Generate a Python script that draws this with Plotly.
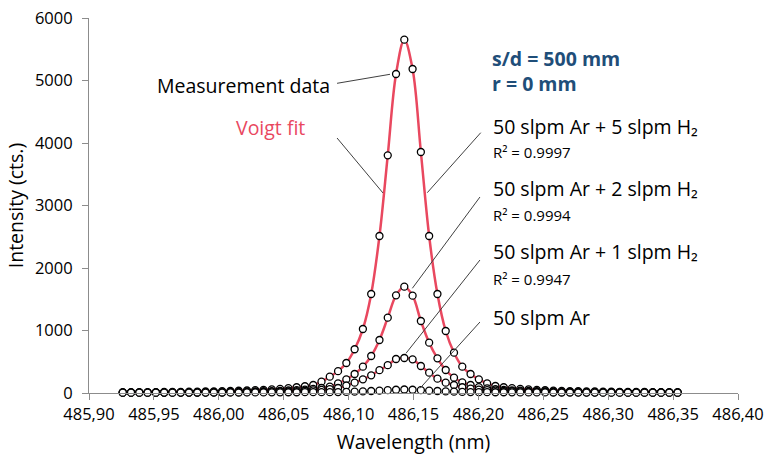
import plotly.graph_objects as go

# ---------------- data ----------------
wl_start = 485.926
wl_step = 0.00638
n_pts = 68
wavelength = [round(wl_start + i * wl_step, 5) for i in range(n_pts)]

h2_5 = [12, 12, 13, 14, 15, 16, 17, 19, 20, 22, 24, 26, 29, 32, 36,
        40, 45, 51, 58, 67, 78, 92, 108, 128, 181, 261, 350, 480, 700,
        1024, 1584, 2512, 3803, 5104, 5653, 5184, 3856, 2512, 1584, 992,
        645, 421, 304, 219, 155, 112,
        92, 78, 66, 57, 50, 44, 39, 35, 31, 28, 26, 24, 22, 20, 19, 18,
        17, 16, 15, 14, 13, 12]

h2_2 = [6, 6, 7, 7, 8, 8, 9, 9, 10, 11, 12, 13, 15, 17, 19,
        22, 25, 28, 31, 35, 40, 47, 55, 65, 80, 101, 155, 219, 304,
        421, 592, 848, 1205, 1563, 1701, 1557, 1152, 805, 555, 368,
        245, 171, 128, 95, 75, 60,
        50, 43, 37, 32, 28, 25, 22, 20, 18, 16, 15, 14, 13, 12, 11, 10,
        9, 9, 8, 8, 7, 7]

h2_1 = [5, 5, 5, 6, 6, 6, 7, 7, 8, 8, 9, 10, 11, 12, 13,
        15, 17, 19, 21, 24, 27, 31, 36, 42, 50, 62, 80, 120, 165,
        219, 283, 365, 445, 544, 560, 539, 432, 325, 229, 165,
        128, 92, 70, 55, 45, 38,
        32, 28, 25, 22, 20, 18, 16, 15, 14, 13, 12, 11, 10, 9, 9, 8,
        8, 7, 7, 6, 6, 5]

ar_only = [5, 6, 5, 6, 6, 7, 6, 7, 7, 8, 7, 8, 8, 9, 8,
           9, 10, 10, 11, 11, 12, 12, 13, 13, 14, 14, 15, 18, 22,
           26, 32, 38, 45, 52, 56, 52, 45, 38, 32, 26,
           22, 18, 15, 14, 13, 12,
           12, 11, 10, 10, 9, 9, 8, 8, 8, 7, 7, 7, 6, 6, 6, 6,
           5, 5, 5, 5, 5, 5]

fitted_series = [h2_5, h2_2, h2_1]
all_series = [h2_5, h2_2, h2_1, ar_only]

series_labels = ["50 slpm Ar + 5 slpm H₂", "50 slpm Ar + 2 slpm H₂",
                 "50 slpm Ar + 1 slpm H₂", "50 slpm Ar"]
r2_labels = ["R² = 0.9997", "R² = 0.9994", "R² = 0.9947", None]

x_ticks = [485.90, 485.95, 486.00, 486.05, 486.10, 486.15, 486.20,
           486.25, 486.30, 486.35, 486.40]

# ---------------- styling ----------------
RED = "#e9485f"
FONT = "Open Sans"
TXT = "#000000"
AXC = "#8c8c8c"

fig = go.Figure()

for s in fitted_series:
    fig.add_trace(go.Scatter(
        x=wavelength, y=s, mode="lines",
        line=dict(color=RED, width=2.5, shape="spline", smoothing=1.0),
        showlegend=False, hoverinfo="skip", cliponaxis=False))

for s, lab in zip(all_series, series_labels):
    fig.add_trace(go.Scatter(
        x=wavelength, y=s, mode="markers", name=lab,
        marker=dict(symbol="circle", size=7, color="white",
                    line=dict(color="black", width=1.3)),
        showlegend=False, cliponaxis=False))

annotations = []
shapes = []

def add_text(x, y, text, size=19.5, color=TXT, xanchor="left", bold=False):
    annotations.append(dict(
        x=x, y=y, xref="x", yref="y", text=("<b>%s</b>" % text) if bold else text,
        showarrow=False, xanchor=xanchor, yanchor="middle",
        font=dict(family=FONT, size=size, color=color)))

def add_line(x0, y0, x1, y1):
    shapes.append(dict(type="line", xref="x", yref="y", x0=x0, y0=y0,
                       x1=x1, y1=y1, line=dict(color="#404040", width=1)))

# measurement data / voigt fit
add_text(485.9508, 4928, "Measurement data")
add_line(486.0911, 4955, 486.1319, 5099)
add_text(486.0402, 4256, "Voigt fit", color=RED, xanchor="center")
add_line(486.0911, 4080, 486.1265, 3200)

# conditions
add_text(486.2089, 5360, "s/d = 500 mm", color="#1f4e79", bold=True)
add_text(486.2089, 4960, "r = 0 mm", color="#1f4e79", bold=True)

label_y = [4260, 3273, 2265, 1216]
r2_y = [3850, 2842, 1818, None]
leaders = [(486.2018, 4165, 486.1606, 3205),
           (486.2012, 3136, 486.1491, 1675),
           (486.2012, 2128, 486.1442, 635),
           (486.2012, 1136, 486.1550, 75)]
for lab, ly, r2, ry, ld in zip(series_labels, label_y, r2_labels, r2_y, leaders):
    add_text(486.2095, ly, lab)
    if r2:
        add_text(486.2095, ry, r2, size=15)
    add_line(*ld)

fig.update_layout(
    width=767, height=460,
    margin=dict(l=89, r=29, t=18, b=67),
    paper_bgcolor="white", plot_bgcolor="white",
    separators=",.",
    font=dict(family=FONT, size=16.5, color=TXT),
    annotations=annotations, shapes=shapes,
    xaxis=dict(
        range=[485.90, 486.40], tickvals=x_ticks, tickformat=".2f",
        showgrid=False, zeroline=False, showline=True, linecolor=AXC,
        linewidth=1, ticks="outside", ticklen=6, tickcolor=AXC,
        tickfont=dict(family=FONT, size=16.5, color=TXT),
        title=dict(text="Wavelength (nm)", standoff=11,
                   font=dict(family=FONT, size=19.5, color=TXT)),
        automargin=False),
    yaxis=dict(
        range=[0, 6000], dtick=1000, tickformat=".0f",
        showgrid=False, zeroline=False, showline=True, linecolor=AXC,
        linewidth=1, ticks="outside", ticklen=6, tickcolor=AXC,
        ticklabelstandoff=6,
        tickfont=dict(family=FONT, size=16.5, color=TXT),
        title=dict(text="Intensity (cts.)", standoff=6,
                   font=dict(family=FONT, size=19.5, color=TXT)),
        automargin=False),
)

fig.write_html("out.html")
